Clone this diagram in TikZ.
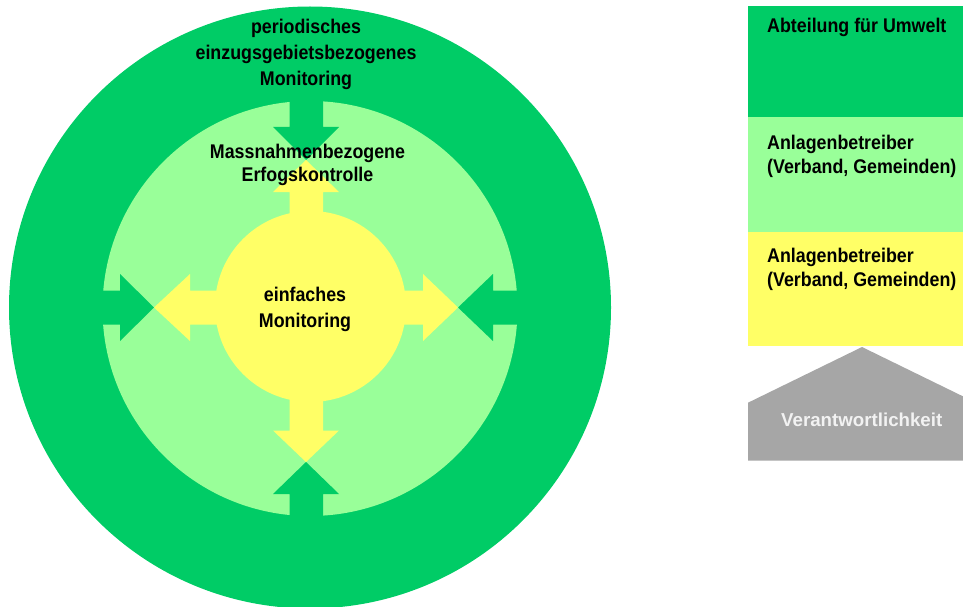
\documentclass[tikz,border=0pt]{standalone}
\usepackage{fontspec}
\setmainfont{Liberation Sans}
\newfontfamily\narrowsans{Liberation Sans}[FakeStretch=0.9]
\definecolor{dgreen}{HTML}{00CC66}
\definecolor{lgreen}{HTML}{99FF99}
\definecolor{yel}{HTML}{FFFF66}
\definecolor{greybox}{HTML}{A6A6A6}
\definecolor{greytext}{HTML}{F2F2F2}
\begin{document}
\begin{tikzpicture}[x=1pt,y=-1pt,
  disc/.style={circle, inner sep=0pt, draw=none},
  lbl/.style={font=\narrowsans\bfseries\fontsize{19.8}{26}\selectfont, align=center, inner sep=0pt, anchor=base},
  leg/.style={font=\narrowsans\bfseries\fontsize{19.8}{24}\selectfont, align=left, inner sep=0pt, anchor=base west},
  legbox/.style={rectangle, inner sep=0pt, anchor=north west, minimum width=240pt}]
\clip (0,0) rectangle (963,607);
% circles
\node[disc, fill=dgreen, minimum size=602pt] (outer) at (310,307.5) {};
\node[disc, fill=lgreen, minimum size=415pt] (mid) at (310,308.5) {};
% green arrows (inward)
\fill[dgreen] (289.5,95) -- (323,95) -- (323,127) -- (339,127) -- (306,160) -- (273,127) -- (289.5,127) -- cycle;
\fill[dgreen] (289.5,525) -- (323,525) -- (323,494) -- (339,494) -- (306,462) -- (273,494) -- (289.5,494) -- cycle;
\fill[dgreen] (95,290.5) -- (95,324.5) -- (120,324.5) -- (120,341) -- (154,307.5) -- (120,274) -- (120,290.5) -- cycle;
\fill[dgreen] (525,290.5) -- (525,324.5) -- (493,324.5) -- (493,341) -- (458,307.5) -- (493,274) -- (493,290.5) -- cycle;
% yellow circle and outward arrows
\node[disc, fill=yel, minimum size=191pt] (inner) at (310.5,306.5) {};
\fill[yel] (289.5,235) -- (323,235) -- (323,192) -- (339,192) -- (306,160) -- (273,192) -- (289.5,192) -- cycle;
\fill[yel] (289.5,380) -- (323,380) -- (323,430.5) -- (339,430.5) -- (306,462) -- (273,430.5) -- (289.5,430.5) -- cycle;
\fill[yel] (235,290.5) -- (235,324.5) -- (190,324.5) -- (190,341) -- (154,307.5) -- (190,274) -- (190,290.5) -- cycle;
\fill[yel] (385,290.5) -- (385,324.5) -- (423,324.5) -- (423,341) -- (458,307.5) -- (423,274) -- (423,290.5) -- cycle;
% labels (base anchor = baseline of the last line)
\node[lbl] (t1) at (306,86) {periodisches\\einzugsgebietsbezogenes\\Monitoring};
\node[lbl, font=\narrowsans\bfseries\fontsize{19.8}{23.7}\selectfont] (t2) at (307.5,181.7) {Massnahmenbezogene\\Erfogskontrolle};
\node[lbl] (t3) at (305,327.5) {einfaches\\Monitoring};
% legend
\node[legbox, fill=dgreen, minimum height=111.3pt] (b1) at (748,6) {};
\node[legbox, fill=lgreen, minimum height=114.4pt] (b2) at (748,117.3) {};
\node[legbox, fill=yel, minimum height=114.3pt] (b3) at (748,231.7) {};
\node[leg] (l1) at (767,33) {Abteilung für Umwelt};
\node[leg] (l2) at (767,173) {Anlagenbetreiber\\(Verband, Gemeinden)};
\node[leg] (l3) at (767,286.7) {Anlagenbetreiber\\(Verband, Gemeinden)};
\fill[greybox] (748,460.7) -- (748,402.7) -- (862,347) -- (976,402.7) -- (976,460.7) -- cycle;
\node[inner sep=0pt, anchor=base west, text=greytext, font=\bfseries\fontsize{18.7}{22}\selectfont] (l4) at (781,426) {Verantwortlichkeit};
\end{tikzpicture}
\end{document}
